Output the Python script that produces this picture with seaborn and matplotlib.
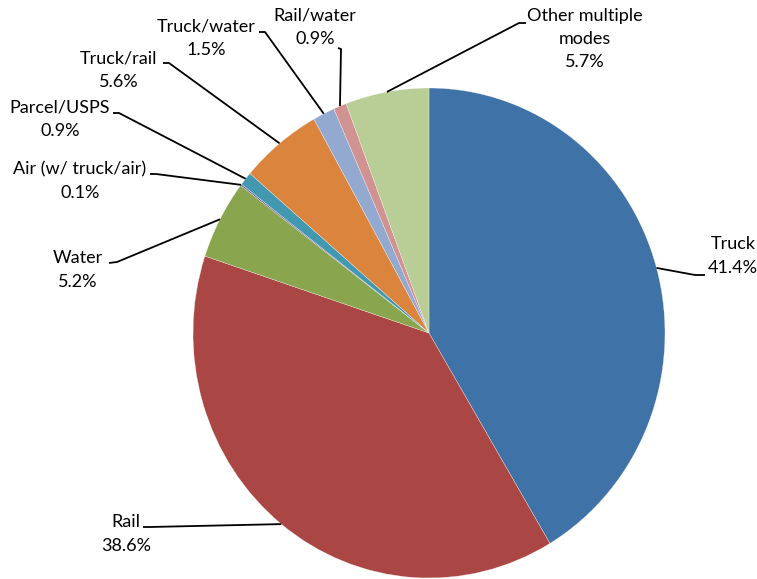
import numpy as np
import matplotlib
matplotlib.use("Agg")
import matplotlib.pyplot as plt
import seaborn as sns


modes = ["Truck", "Rail", "Water", "Air (w/ truck/air)", "Parcel/USPS",
         "Truck/rail", "Truck/water", "Rail/water", "Other multiple\nmodes"]
shares = [41.4, 38.6, 5.2, 0.1, 0.9, 5.6, 1.5, 0.9, 5.7]
slice_colors = ["#3F72A7", "#AA4643", "#89A54E", "#71588F", "#4198AF",
                "#DB843D", "#93A9CF", "#D19392", "#B9CD96"]

# label layout in image pixels: text centre, leader end at the label, elbow
label_centre = [(733, 256), (126, 534), (78, 270), (80, 181), (60, 119),
                (119, 70), (206, 38), (315, 27), (585, 39)]
leader_end = [(705, 275), (143, 527), (109, 263), (150, 174), (113, 113),
              (163, 63), (259, 32), (338, 48), (526, 23)]
leader_elbow = [(695, 275), (150, 527), (117, 262), (156, 174), (119, 113),
                (169, 63), (265, 32), (341, 49), (519, 23)]

W, H = 757, 579
CX, CY = 429, 333      # pie centre (px)
RX, RY = 236, 245      # pie radii (px), slightly taller than wide

sns.set_style("white")
plt.rcParams["font.family"] = ["Lato", "DejaVu Sans"]


def px(p):
    return ((p[0] - CX) / RX, (CY - p[1]) / RY)


fig = plt.figure(figsize=(W / 100, H / 100), dpi=100)
ax = fig.add_axes([0, 0, 1, 1])

wedges, _ = ax.pie(
    shares,
    colors=sns.color_palette(slice_colors),
    startangle=90,
    counterclock=False,
    radius=1,
    wedgeprops=dict(edgecolor="white", linewidth=0.2)
)

ax.set_aspect("auto")
ax.set_xlim(-CX / RX, (W - CX) / RX)
ax.set_ylim(-(H - CY) / RY, CY / RY)
ax.axis("off")

for i, w in enumerate(wedges):
    mid = np.deg2rad((w.theta1 + w.theta2) / 2)
    edge = (np.cos(mid), np.sin(mid))
    end = px(leader_end[i])
    elbow = px(leader_elbow[i])
    ax.plot([end[0], elbow[0], edge[0]], [end[1], elbow[1], edge[1]],
            color="black", lw=1.3, solid_capstyle="butt", zorder=3)

    tx, ty = px(label_centre[i])
    ax.text(tx, ty, f"{modes[i]}\n{shares[i]:.1f}%",
            ha="center", va="center", fontsize=13,
            linespacing=1.55, color="black", multialignment="center")

fig.savefig("out.png", dpi=100)
